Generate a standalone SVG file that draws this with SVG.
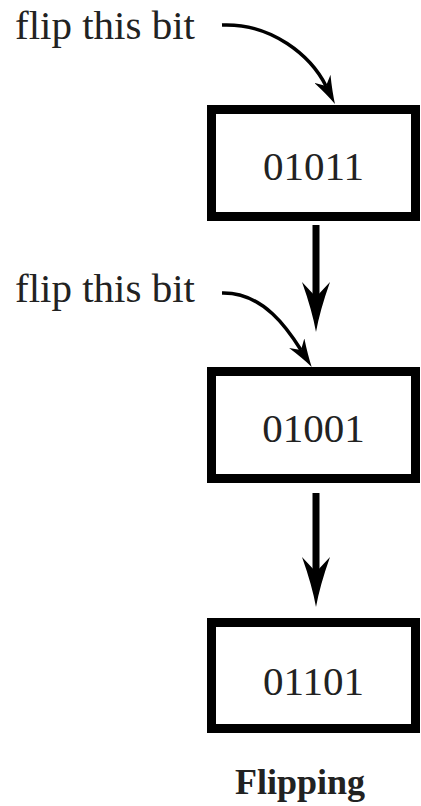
<svg xmlns="http://www.w3.org/2000/svg" width="421" height="806" viewBox="0 0 421 806">
<style>
.box{fill:#fff;stroke:#000;stroke-width:9}
.val{font-family:"Liberation Serif","Times New Roman",serif;font-size:41px;fill:#222;text-anchor:middle}
.lbl{font-family:"Liberation Serif","Times New Roman",serif;font-size:41px;fill:#222}
.title{font-family:"Liberation Serif","Times New Roman",serif;font-size:36px;font-weight:bold;fill:#222;text-anchor:middle}
.main{fill:none;stroke:#000;stroke-width:7}
.curve{fill:none;stroke:#000;stroke-width:3.5}
</style>
<defs>
<marker id="bigHead" markerUnits="userSpaceOnUse" viewBox="0 0 50 28" markerWidth="50" markerHeight="28" refX="15" refY="14" orient="auto">
<path d="M0,0 Q28,10 50,14 Q28,18 0,28 L15,14 Z" fill="#000"/>
</marker>
<marker id="smallHead" markerUnits="userSpaceOnUse" viewBox="0 0 28 18" markerWidth="28" markerHeight="18" refX="8" refY="9" orient="auto">
<path d="M0,0 Q16,6 28,9 Q16,12 0,18 L8,9 Z" fill="#000"/>
</marker>
</defs>
<rect width="421" height="806" fill="#fff"/>
<g id="connectors">
<path class="curve" d="M222,25 C272,23 311,56 326,86" marker-end="url(#smallHead)"/>
<path class="main" d="M316,225 L316,297" marker-end="url(#bigHead)"/>
<path class="curve" d="M222,293 C264,292 289,331 301,350" marker-end="url(#smallHead)"/>
<path class="main" d="M316,493 L316,572" marker-end="url(#bigHead)"/>
</g>
<g id="label1"><text class="lbl" x="15" y="39">flip this bit</text></g>
<g id="label2"><text class="lbl" x="15" y="302">flip this bit</text></g>
<g id="box1">
<rect class="box" x="211.5" y="109.5" width="204" height="107"/>
<text class="val" x="313.5" y="180">01011</text>
</g>
<g id="box2">
<rect class="box" x="211.5" y="371.5" width="204" height="107"/>
<text class="val" x="313.5" y="442">01001</text>
</g>
<g id="box3">
<rect class="box" x="211.5" y="622.5" width="204" height="106"/>
<text class="val" x="313.5" y="695">01101</text>
</g>
<g id="caption"><text class="title" x="300" y="794">Flipping</text></g>
</svg>
